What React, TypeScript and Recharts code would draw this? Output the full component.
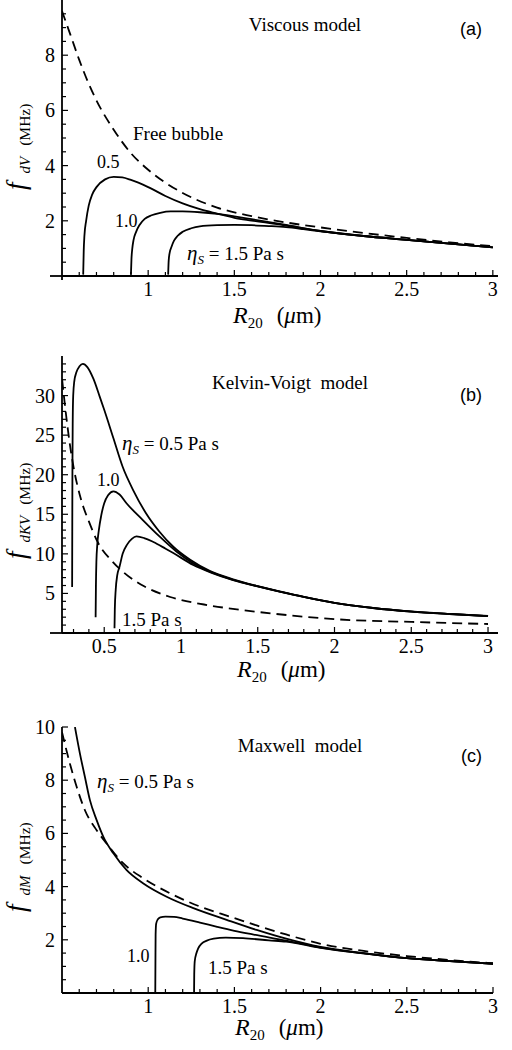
import { LineChart, Line, XAxis, YAxis } from "recharts";

const SERIF = '"Liberation Serif", "Times New Roman", serif';
const SANS = '"Liberation Sans", Arial, sans-serif';

// (a) viscous model
const freeA_R = [0.5, 0.55, 0.6, 0.65, 0.7, 0.8, 0.9, 1.0, 1.1, 1.2, 1.4, 1.6, 1.8, 2.0, 2.25, 2.5, 2.75, 3.0];
const freeA_f = [9.6, 8.72, 7.83, 7.04, 6.36, 5.3, 4.45, 3.85, 3.38, 3.01, 2.48, 2.17, 1.94, 1.76, 1.56, 1.38, 1.22, 1.08];
const visc05_R = [0.623, 0.626, 0.63, 0.64, 0.655, 0.675, 0.7, 0.75, 0.8, 0.85, 0.9, 1.0, 1.1, 1.2, 1.3, 1.4, 1.5, 1.6, 1.8, 2.0, 2.25, 2.5, 2.75, 3.0];
const visc05_f = [0.05, 0.9, 1.45, 2.0, 2.55, 2.95, 3.22, 3.5, 3.59, 3.57, 3.48, 3.22, 2.9, 2.63, 2.42, 2.26, 2.11, 2.01, 1.83, 1.63, 1.45, 1.31, 1.17, 1.04];
const visc10_R = [0.9, 0.903, 0.908, 0.915, 0.93, 0.95, 0.98, 1.02, 1.07, 1.13, 1.2, 1.3, 1.4, 1.5, 1.6, 1.8, 2.0, 2.25, 2.5, 2.75, 3.0];
const visc10_f = [0.05, 0.6, 1.0, 1.3, 1.6, 1.85, 2.07, 2.2, 2.29, 2.34, 2.34, 2.31, 2.25, 2.16, 2.06, 1.85, 1.63, 1.45, 1.31, 1.17, 1.04];
const visc15_R = [1.116, 1.119, 1.125, 1.135, 1.15, 1.17, 1.2, 1.25, 1.3, 1.4, 1.5, 1.6, 1.7, 1.8, 1.9, 2.0, 2.25, 2.5, 2.75, 3.0];
const visc15_f = [0.05, 0.55, 0.85, 1.05, 1.28, 1.45, 1.6, 1.73, 1.8, 1.84, 1.85, 1.84, 1.81, 1.77, 1.7, 1.62, 1.45, 1.31, 1.17, 1.04];

// (b) Kelvin-Voigt model
const freeB_R = [0.226, 0.25, 0.275, 0.3, 0.35, 0.4, 0.46, 0.55, 0.63, 0.76, 0.93, 1.15, 1.4, 1.7, 2.0, 2.5, 3.0];
const freeB_f = [32, 27.8, 24.0, 21.0, 16.8, 14.1, 11.4, 9.1, 7.6, 5.9, 4.55, 3.6, 2.9, 2.25, 1.75, 1.4, 1.14];
const kv05_R = [0.291, 0.292, 0.293, 0.295, 0.298, 0.305, 0.318, 0.339, 0.361, 0.39, 0.43, 0.47, 0.5, 0.56, 0.62, 0.69, 0.77, 0.86, 0.95, 1.06, 1.19, 1.34, 1.5, 1.65, 1.8, 2.0, 2.25, 2.5, 2.75, 3.0];
const kv05_f = [5.8, 14, 21, 27, 30, 31.8, 32.9, 33.7, 34.0, 33.6, 32.1, 29.9, 28.2, 24.6, 21.0, 18.0, 15.2, 12.8, 10.9, 9.25, 7.82, 6.78, 5.92, 5.22, 4.57, 3.82, 3.17, 2.72, 2.41, 2.15];
const kv10_R = [0.444, 0.446, 0.449, 0.455, 0.465, 0.48, 0.5, 0.525, 0.56, 0.6, 0.645, 0.75, 0.86, 0.97, 1.08, 1.2, 1.34, 1.5, 1.65, 1.8, 2.0, 2.25, 2.5, 2.75, 3.0];
const kv10_f = [2.0, 6, 9, 11.2, 13.0, 14.8, 16.4, 17.4, 17.9, 17.5, 16.4, 14.3, 12.2, 10.3, 8.8, 7.66, 6.72, 5.9, 5.2, 4.56, 3.81, 3.16, 2.71, 2.4, 2.14];
const kv15_R = [0.567, 0.569, 0.575, 0.585, 0.6, 0.62, 0.65, 0.68, 0.71, 0.76, 0.82, 0.9, 0.95, 1.08, 1.2, 1.34, 1.5, 1.65, 1.8, 2.0, 2.25, 2.5, 2.75, 3.0];
const kv15_f = [0.6, 3.0, 5.5, 7.3, 8.4, 10.0, 11.2, 11.9, 12.2, 12.0, 11.5, 10.65, 10.1, 8.6, 7.6, 6.68, 5.88, 5.19, 4.55, 3.8, 3.16, 2.71, 2.4, 2.14];

// (c) Maxwell model
const freeC_R = [0.5, 0.546, 0.585, 0.633, 0.701, 0.759, 0.856, 0.972, 1.126, 1.3, 1.474, 1.629, 1.8, 2.0, 2.25, 2.5, 2.75, 3.0];
const freeC_f = [9.8, 8.62, 7.75, 6.87, 6.12, 5.62, 4.87, 4.31, 3.75, 3.25, 2.87, 2.54, 2.2, 1.85, 1.58, 1.39, 1.24, 1.12];
const mx05_R = [0.575, 0.604, 0.633, 0.662, 0.701, 0.74, 0.798, 0.875, 0.972, 1.107, 1.262, 1.455, 1.629, 1.8, 2.0, 2.25, 2.5, 2.75, 3.0];
const mx05_f = [10.0, 9.0, 8.12, 7.25, 6.5, 5.87, 5.25, 4.62, 4.12, 3.62, 3.19, 2.75, 2.37, 2.04, 1.73, 1.5, 1.31, 1.2, 1.1];
const mx10_R = [1.041, 1.042, 1.043, 1.046, 1.055, 1.07, 1.1, 1.15, 1.2, 1.3, 1.4, 1.5, 1.6, 1.8, 2.0, 2.25, 2.5, 2.75, 3.0];
const mx10_f = [0, 1.2, 2.2, 2.6, 2.76, 2.84, 2.87, 2.86, 2.8, 2.65, 2.49, 2.34, 2.21, 1.97, 1.71, 1.49, 1.31, 1.2, 1.1];
const mx15_R = [1.266, 1.267, 1.27, 1.28, 1.29, 1.31, 1.34, 1.38, 1.45, 1.55, 1.7, 1.8, 2.0, 2.25, 2.5, 2.75, 3.0];
const mx15_f = [0, 0.7, 1.2, 1.5, 1.68, 1.86, 1.97, 2.04, 2.08, 2.06, 1.98, 1.93, 1.7, 1.49, 1.31, 1.2, 1.1];

// ticks
const xMajorAC = [1, 1.5, 2, 2.5, 3];
const xMinorAC = [0.6, 0.7, 0.8, 0.9, 1.1, 1.2, 1.3, 1.4, 1.6, 1.7, 1.8, 1.9, 2.1, 2.2, 2.3, 2.4, 2.6, 2.7, 2.8, 2.9];
const xMajorB = [0.5, 1, 1.5, 2, 2.5, 3];
const xMinorB = [0.3, 0.4, 0.6, 0.7, 0.8, 0.9, 1.1, 1.2, 1.3, 1.4, 1.6, 1.7, 1.8, 1.9, 2.1, 2.2, 2.3, 2.4, 2.6, 2.7, 2.8, 2.9];
const yMajorA = [2, 4, 6, 8];
const yMinorA = [0, 0.5, 1, 1.5, 2.5, 3, 3.5, 4.5, 5, 5.5, 6.5, 7, 7.5, 8.5, 9, 9.5];
const yMajorB = [5, 10, 15, 20, 25, 30];
const yMinorB = [0, 1, 2, 3, 4, 6, 7, 8, 9, 11, 12, 13, 14, 16, 17, 18, 19, 21, 22, 23, 24, 26, 27, 28, 29, 31, 32, 33, 34];
const yMajorC = [2, 4, 6, 8, 10];
const yMinorC = [0, 0.5, 1, 1.5, 2.5, 3, 3.5, 4.5, 5, 5.5, 6.5, 7, 7.5, 8.5, 9, 9.5];

interface Curve {
  R: number[];
  f: number[];
  dashed?: boolean;
}

function zip(R: number[], f: number[]) {
  return R.map((r, i) => ({ R: r, f: f[i] }));
}

function XTick(props: any) {
  const { x, y, payload, majors } = props;
  const v = payload.value;
  const major = majors.includes(v);
  return (
    <g>
      <line x1={x} x2={x} y1={y} y2={y - (major ? 6 : 4)} stroke="#000" strokeWidth={1.2} />
      {major && (
        <text x={x} y={y + 20} textAnchor="middle" fontSize={20} fontFamily={SERIF} fill="#000">
          {String(v)}
        </text>
      )}
    </g>
  );
}

function YTick(props: any) {
  const { x, y, payload, majors, extendLeft, extendDown } = props;
  const v = payload.value;
  if (v === 0) {
    return (
      <g>
        {extendLeft > 0 && <line x1={x - extendLeft} x2={x} y1={y} y2={y} stroke="#000" strokeWidth={1.8} />}
        {extendDown > 0 && <line x1={x} x2={x} y1={y} y2={y + extendDown} stroke="#000" strokeWidth={1.8} />}
      </g>
    );
  }
  const major = majors.includes(v);
  return (
    <g>
      <line x1={x} x2={x + (major ? 6 : 4)} y1={y} y2={y} stroke="#000" strokeWidth={1.2} />
      {major && (
        <text x={x - 7} y={y + 7} textAnchor="end" fontSize={20} fontFamily={SERIF} fill="#000">
          {String(v)}
        </text>
      )}
    </g>
  );
}

interface PanelProps {
  top: number;
  padTop: number;
  plotHeight: number;
  right: number;
  xDomain: [number, number];
  yDomain: [number, number];
  xMajor: number[];
  xMinor: number[];
  yMajor: number[];
  yMinor: number[];
  curves: Curve[];
  extendLeft: number;
  extendDown: number;
}

function Panel(p: PanelProps) {
  return (
    <div style={{ position: "absolute", left: 0, top: p.top }}>
      <LineChart
        width={512}
        height={p.padTop + p.plotHeight + 54}
        margin={{ top: p.padTop, right: p.right, bottom: 0, left: 0 }}
      >
        <XAxis
          type="number"
          dataKey="R"
          domain={p.xDomain}
          allowDataOverflow
          ticks={[...p.xMajor, ...p.xMinor]}
          interval={0}
          height={54}
          tickLine={false}
          tickSize={0}
          tickMargin={0}
          axisLine={{ stroke: "#000", strokeWidth: 1.8 }}
          tick={(t: any) => <XTick {...t} majors={p.xMajor} />}
        />
        <YAxis
          type="number"
          domain={p.yDomain}
          allowDataOverflow
          ticks={[...p.yMajor, ...p.yMinor]}
          interval={0}
          width={62}
          tickLine={false}
          tickSize={0}
          tickMargin={0}
          axisLine={{ stroke: "#000", strokeWidth: 1.8 }}
          tick={(t: any) => (
            <YTick {...t} majors={p.yMajor} extendLeft={p.extendLeft} extendDown={p.extendDown} />
          )}
        />
        {p.curves.map((c, i) => (
          <Line
            key={i}
            name={"c" + i}
            data={zip(c.R, c.f)}
            dataKey="f"
            type="monotone"
            dot={false}
            activeDot={false}
            stroke="#000"
            strokeWidth={1.8}
            strokeDasharray={c.dashed ? "10 6" : undefined}
            isAnimationActive={false}
          />
        ))}
      </LineChart>
    </div>
  );
}

function YLabel({ x, y, sub }: { x: number; y: number; sub: string }) {
  return (
    <text transform={`translate(${x},${y}) rotate(-90)`} fontFamily={SERIF} fill="#000">
      <tspan fontStyle="italic" fontSize={27}>f</tspan>
      <tspan fontStyle="italic" fontSize={15} dy={5} dx={9}>{sub}</tspan>
      <tspan fontSize={15.5} dx={11}>(MHz)</tspan>
    </text>
  );
}

function XLabel({ x, y }: { x: number; y: number }) {
  return (
    <text x={x} y={y} fontFamily={SERIF} fill="#000">
      <tspan fontStyle="italic" fontSize={24}>R</tspan>
      <tspan fontSize={15} dy={5}>20</tspan>
      <tspan fontSize={23} dy={-5} dx={14}>(</tspan>
      <tspan fontSize={23} fontStyle="italic">μ</tspan>
      <tspan fontSize={23}>m)</tspan>
    </text>
  );
}

function Eta({ x, y, value }: { x: number; y: number; value: string }) {
  return (
    <text x={x} y={y} fontFamily={SERIF} fill="#000" style={{ whiteSpace: "pre" }}>
      <tspan fontStyle="italic" fontSize={21}>η</tspan>
      <tspan fontStyle="italic" fontSize={13} dy={4}>S</tspan>
      <tspan fontSize={19} dy={-4}>{" = " + value + " Pa s"}</tspan>
    </text>
  );
}

function Note({ x, y, text, size = 19, family = SERIF, anchor = "start" }: { x: number; y: number; text: string; size?: number; family?: string; anchor?: string }) {
  return (
    <text x={x} y={y} fontSize={size} fontFamily={family} fill="#000" textAnchor={anchor as any} style={{ whiteSpace: "pre" }}>
      {text}
    </text>
  );
}

export default function App() {
  return (
    <div style={{ position: "absolute", left: 0, top: 0, width: 512, height: 1050, background: "#fff" }}>
      <Panel
        top={0}
        padTop={0}
        plotHeight={276}
        right={14}
        xDomain={[0.5, 3.03]}
        yDomain={[0, 10]}
        xMajor={xMajorAC}
        xMinor={xMinorAC}
        yMajor={yMajorA}
        yMinor={yMinorA}
        extendLeft={12}
        extendDown={4}
        curves={[
          { R: freeA_R, f: freeA_f, dashed: true },
          { R: visc05_R, f: visc05_f },
          { R: visc10_R, f: visc10_f },
          { R: visc15_R, f: visc15_f },
        ]}
      />
      <Panel
        top={341}
        padTop={15}
        plotHeight={277}
        right={14}
        xDomain={[0.225, 3.065]}
        yDomain={[0, 35]}
        xMajor={xMajorB}
        xMinor={xMinorB}
        yMajor={yMajorB}
        yMinor={yMinorB}
        extendLeft={12}
        extendDown={0}
        curves={[
          { R: freeB_R, f: freeB_f, dashed: true },
          { R: kv05_R, f: kv05_f },
          { R: kv10_R, f: kv10_f },
          { R: kv15_R, f: kv15_f },
        ]}
      />
      <Panel
        top={712}
        padTop={15}
        plotHeight={266}
        right={19}
        xDomain={[0.5, 3]}
        yDomain={[0, 10]}
        xMajor={xMajorAC}
        xMinor={xMinorAC}
        yMajor={yMajorC}
        yMinor={yMinorC}
        extendLeft={0}
        extendDown={0}
        curves={[
          { R: freeC_R, f: freeC_f, dashed: true },
          { R: mx05_R, f: mx05_f },
          { R: mx10_R, f: mx10_f },
          { R: mx15_R, f: mx15_f },
        ]}
      />
      <svg width={512} height={1050} style={{ position: "absolute", left: 0, top: 0, pointerEvents: "none" }}>
        {/* (a) */}
        <Note x={305} y={31} text="Viscous model" anchor="middle" />
        <Note x={460} y={35} text="(a)" size={18} family={SANS} />
        <Note x={133} y={140} text="Free bubble" />
        <Note x={97} y={168} text="0.5" size={18} />
        <Note x={115} y={227} text="1.0" size={18} />
        <Eta x={187} y={260} value="1.5" />
        <YLabel x={25} y={190} sub="dV" />
        <XLabel x={233} y={323} />

        {/* (b) */}
        <Note x={290} y={389} text="Kelvin-Voigt  model" anchor="middle" />
        <Note x={460} y={401} text="(b)" size={18} family={SANS} />
        <Eta x={122} y={450} value="0.5" />
        <Note x={97} y={486} text="1.0" size={18} />
        <Note x={122} y={626} text="1.5 Pa s" />
        <YLabel x={25} y={559} sub="dKV" />
        <XLabel x={237} y={677} />

        {/* (c) */}
        <Note x={300} y={752} text="Maxwell  model" anchor="middle" />
        <Note x={461} y={762} text="(c)" size={18} family={SANS} />
        <Eta x={97} y={788} value="0.5" />
        <Note x={127} y={962} text="1.0" size={18} />
        <Note x={208} y={974} text="1.5 Pa s" />
        <YLabel x={25} y={912} sub="dM" />
        <XLabel x={235} y={1035} />
      </svg>
    </div>
  );
}
